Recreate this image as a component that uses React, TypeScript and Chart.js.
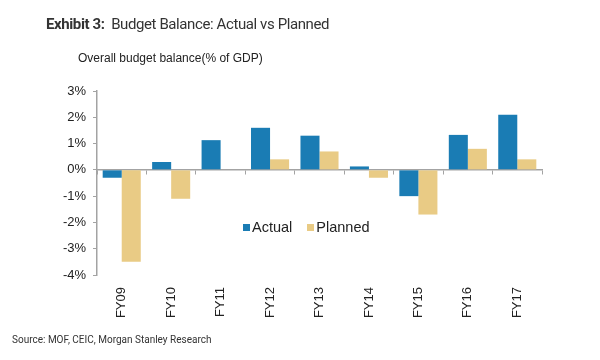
import React, { useEffect, useRef } from "react";
import { Chart, registerables } from "chart.js";

Chart.register(...registerables);

const categories = ["FY09", "FY10", "FY11", "FY12", "FY13", "FY14", "FY15", "FY16", "FY17"];
const actualValues = [-0.3, 0.3, 1.13, 1.6, 1.3, 0.13, -1.0, 1.33, 2.1];
const plannedValues: (number | null)[] = [-3.5, -1.1, null, 0.4, 0.7, -0.3, -1.7, 0.8, 0.4];
const seriesNames = ["Actual", "Planned"];
const seriesColors = ["#1a7cb4", "#e9cb85"];
const yMin = -4;
const yMax = 3;

const AXIS_COLOR = "#a3a3a3";
const TEXT_COLOR = "#222222";
const ARIAL = "'Liberation Sans', Arial, sans-serif";

export default function App() {
  const canvasRef = useRef<HTMLCanvasElement | null>(null);

  useEffect(() => {
    if (!canvasRef.current) return;
    const chart = new Chart(canvasRef.current, {
      type: "bar",
      data: {
        labels: categories,
        datasets: [
          {
            label: seriesNames[0],
            data: actualValues,
            backgroundColor: seriesColors[0],
            borderWidth: 0,
            categoryPercentage: 0.77,
            barPercentage: 1.0,
          },
          {
            label: seriesNames[1],
            data: plannedValues,
            backgroundColor: seriesColors[1],
            borderWidth: 0,
            categoryPercentage: 0.77,
            barPercentage: 1.0,
          },
        ],
      },
      options: {
        animation: false,
        responsive: false,
        maintainAspectRatio: false,
        layout: { padding: { left: 38, right: 58, top: 91, bottom: 0 } },
        plugins: {
          legend: { display: false },
          tooltip: { enabled: false },
          title: { display: false },
        },
        scales: {
          x: {
            type: "category",
            position: "bottom",
            offset: true,
            grid: { display: false, drawTicks: false },
            border: { display: false },
            ticks: {
              minRotation: 90,
              maxRotation: 90,
              padding: 12,
              color: TEXT_COLOR,
              font: { family: ARIAL, size: 13 },
            },
            afterFit: (scale: any) => {
              scale.height = 85;
            },
          },
          x2: {
            type: "category",
            axis: "x",
            position: { y: 0 },
            offset: true,
            grid: {
              display: true,
              drawOnChartArea: false,
              drawTicks: true,
              tickLength: 4,
              color: AXIS_COLOR,
              offset: true,
            },
            border: { display: true, color: AXIS_COLOR, width: 1.5 },
            ticks: { display: false },
          } as any,
          y: {
            min: yMin,
            max: yMax,
            position: "left",
            grid: {
              drawOnChartArea: false,
              drawTicks: true,
              tickLength: 4,
              color: AXIS_COLOR,
            },
            border: { display: true, color: AXIS_COLOR, width: 1.5 },
            ticks: {
              stepSize: 1,
              padding: 7,
              color: TEXT_COLOR,
              font: { family: ARIAL, size: 13 },
              callback: (v: any) => `${v}%`,
            },
            afterFit: (scale: any) => {
              scale.width = 59;
            },
          },
        },
      },
    });
    return () => chart.destroy();
  }, []);

  return (
    <div style={{ position: "absolute", left: 0, top: 0, width: 600, height: 360, background: "#fff", overflow: "hidden" }}>
      <canvas ref={canvasRef} width={600} height={360} style={{ position: "absolute", left: 0, top: 0, width: 600, height: 360 }} />
      <div
        style={{
          position: "absolute",
          left: 46,
          top: 17,
          fontFamily: "Roboto, sans-serif",
          fontSize: 15,
          lineHeight: "15px",
          letterSpacing: "-0.4px",
          color: "#333",
          whiteSpace: "nowrap",
        }}
      >
        <span style={{ fontWeight: 700 }}>Exhibit 3:</span>
        <span>&nbsp;&nbsp;Budget Balance: Actual vs Planned</span>
      </div>
      <div
        style={{
          position: "absolute",
          left: 78,
          top: 52,
          fontFamily: ARIAL,
          fontSize: 12,
          lineHeight: "12px",
          color: TEXT_COLOR,
          whiteSpace: "nowrap",
        }}
      >
        Overall budget balance(% of GDP)
      </div>
      <div
        style={{
          position: "absolute",
          left: 243,
          top: 219,
          fontFamily: ARIAL,
          fontSize: 14.5,
          lineHeight: "16px",
          color: TEXT_COLOR,
          whiteSpace: "nowrap",
          display: "flex",
          alignItems: "center",
        }}
      >
        <span style={{ display: "inline-block", width: 7, height: 7, background: seriesColors[0], marginRight: 2 }} />
        <span>{seriesNames[0]}</span>
        <span style={{ display: "inline-block", width: 7, height: 7, background: seriesColors[1], marginLeft: 15, marginRight: 2 }} />
        <span>{seriesNames[1]}</span>
      </div>
      <div
        style={{
          position: "absolute",
          left: 12,
          top: 334,
          fontFamily: "Roboto, sans-serif",
          fontSize: 10,
          lineHeight: "12px",
          color: "#333",
          whiteSpace: "nowrap",
        }}
      >
        Source: MOF, CEIC, Morgan Stanley Research
      </div>
    </div>
  );
}
